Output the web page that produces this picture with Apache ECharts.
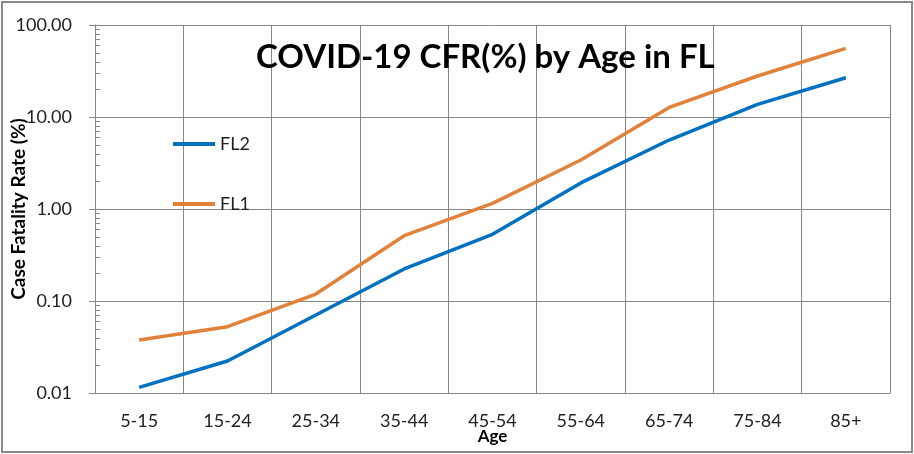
<!DOCTYPE html>
<html>
<head>
<meta charset="utf-8">
<script src="https://cdn.jsdelivr.net/npm/echarts@6/dist/echarts.min.js"></script>
<style>
html,body{margin:0;padding:0;background:#fff;}
#wrap{position:relative;width:914px;height:454px;}
#chart{position:absolute;left:0;top:0;width:914px;height:454px;}
#frame{position:absolute;left:1px;top:1px;width:912px;height:452px;box-sizing:border-box;border:2px solid #898989;pointer-events:none;}
</style>
</head>
<body>
<div id="wrap"><div id="chart"></div><div id="frame"></div></div>
<script>
const categories = ['5-15','15-24','25-34','35-44','45-54','55-64','65-74','75-84','85+'];
const fl2 = [0.0115, 0.0223, 0.0705, 0.223, 0.531, 1.92, 5.62, 13.7, 26.7];
const fl1 = [0.0377, 0.0526, 0.119, 0.513, 1.15, 3.41, 12.7, 27.9, 55.8];
const minorTicks = [0.02,0.03,0.04,0.05,0.06,0.07,0.08,0.09,
                    0.2,0.3,0.4,0.5,0.6,0.7,0.8,0.9,
                    2,3,4,5,6,7,8,9,
                    20,30,40,50,60,70,80,90];

const FONT = 'Lato, "Open Sans", sans-serif';
const GRID = '#868686';
const chart = echarts.init(document.getElementById('chart'));
chart.setOption({
  animation: false,
  backgroundColor: '#ffffff',
  title: {
    text: 'COVID-19 CFR(%) by Age in FL',
    left: 251, top: 36,
    textStyle: {fontFamily: FONT, fontSize: 33, fontWeight: 'bold', color: '#000'}
  },
  legend: {
    orient: 'vertical',
    left: 168, top: 130,
    itemGap: 42,
    itemWidth: 42, itemHeight: 4,
    icon: 'rect',
    data: ['FL2','FL1'],
    textStyle: {fontFamily: FONT, fontSize: 18, color: '#222', lineHeight: 18}
  },
  grid: {left: 95, top: 25, right: 24, bottom: 61, containLabel: false, outerBoundsMode: 'none'},
  xAxis: {
    type: 'category',
    data: categories,
    boundaryGap: true,
    name: 'Age',
    nameLocation: 'middle',
    nameGap: 35,
    nameMoveOverlap: false,
    nameTextStyle: {fontFamily: FONT, fontSize: 17, fontWeight: 'bold', color: '#000'},
    axisLine: {lineStyle: {color: GRID, width: 1}},
    axisTick: {show: false},
    axisLabel: {fontFamily: FONT, fontSize: 18, color: '#222', margin: 19},
    splitLine: {show: true, lineStyle: {color: GRID, width: 1}}
  },
  yAxis: {
    type: 'log',
    logBase: 10,
    min: 0.01, max: 100,
    name: 'Case Fatality Rate (%)',
    nameLocation: 'middle',
    nameGap: 67,
    nameMoveOverlap: false,
    nameTextStyle: {fontFamily: FONT, fontSize: 19, fontWeight: 'bold', color: '#000'},
    axisLine: {show: true, lineStyle: {color: GRID, width: 1}},
    axisTick: {show: true, inside: false, length: 6, lineStyle: {color: GRID}},
    axisLabel: {fontFamily: FONT, fontSize: 18, color: '#222', margin: 23,
      formatter: v => Number(v).toFixed(2)},
    splitLine: {show: true, lineStyle: {color: GRID, width: 1}}
  },
  series: [
    {
      name: 'FL1', type: 'line', data: fl1, symbol: 'none',
      lineStyle: {color: '#E2823A', width: 3.5}, itemStyle: {color: '#E2823A'}
    },
    {
      name: 'FL2', type: 'line', data: fl2, symbol: 'none',
      lineStyle: {color: '#0070C0', width: 3.5}, itemStyle: {color: '#0070C0'}
    },
    {
      name: 'minor', type: 'custom', silent: true, clip: false, z: 5,
      data: minorTicks.map(v => [0, v]),
      encode: {x: 0, y: 1},
      renderItem: function (params, api) {
        const p = api.coord([0, api.value(1)]);
        const x0 = params.coordSys.x;
        const y = Math.round(p[1]) + 0.5;
        return {
          type: 'line',
          shape: {x1: x0, y1: y, x2: x0 + 5, y2: y},
          style: {stroke: GRID, lineWidth: 1}
        };
      }
    }
  ]
});
</script>
</body>
</html>
